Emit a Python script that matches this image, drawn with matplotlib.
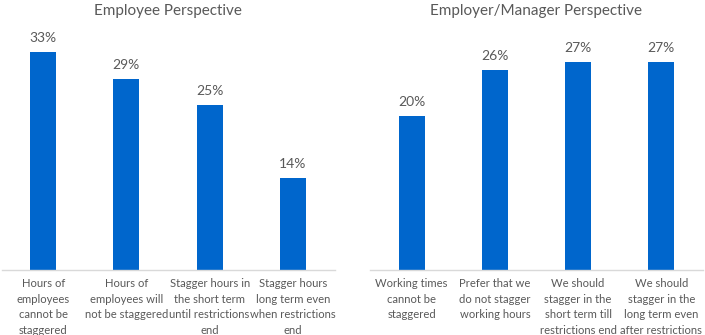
import matplotlib
matplotlib.use("Agg")
import matplotlib.pyplot as plt

emp_cats = ["Hours of\nemployees\ncannot be\nstaggered",
            "Hours of\nemployees will\nnot be staggered",
            "Stagger hours in\nthe short term\nuntil restrictions\nend",
            "Stagger hours\nlong term even\nwhen restrictions\nend"]
emp_vals = [33, 29, 25, 14]

mgr_cats = ["Working times\ncannot be\nstaggered",
            "Prefer that we\ndo not stagger\nworking hours",
            "We should\nstagger in the\nshort term till\nrestrictions end",
            "We should\nstagger in the\nlong term even\nafter restrictions"]
mgr_vals = [20, 26, 27, 27]

plt.rcParams['font.family'] = ['Lato', 'DejaVu Sans']
BLUE = '#0066CC'
GRAY = '#595959'
W, H = 705, 335
fig = plt.figure(figsize=(7.05, 3.35), dpi=100)

def panel(x0, x1, cats, vals, ymax, title):
    ax = fig.add_axes([x0 / W, (H - 270) / H, (x1 - x0) / W, 231 / H])
    xs = range(len(cats))
    ax.bar(xs, vals, width=0.31, color=BLUE)
    for x, v in zip(xs, vals):
        ax.text(x, v + ymax * 0.035, f"{v}%", ha='center', va='bottom',
                fontsize=10, color=GRAY)
    ax.set_xlim(-0.5, len(cats) - 0.5)
    ax.set_ylim(0, ymax)
    ax.set_xticks(list(xs))
    ax.set_xticklabels(cats, fontsize=8.1, color=GRAY, linespacing=1.5)
    ax.tick_params(axis='x', length=0, pad=6)
    ax.set_yticks([])
    for s in ['top', 'right', 'left']:
        ax.spines[s].set_visible(False)
    ax.spines['bottom'].set_color('#D9D9D9')
    ax.spines['bottom'].set_linewidth(1)
    fig.text((x0 + x1) / 2 / W, 1 - 11 / H, title, ha='center', va='center',
             fontsize=11, color=GRAY)
    return ax

panel(1.5, 334.5, emp_cats, emp_vals, 35, "Employee Perspective")
panel(370, 703, mgr_cats, mgr_vals, 30, "Employer/Manager Perspective")

fig.savefig("out.png", dpi=100)
